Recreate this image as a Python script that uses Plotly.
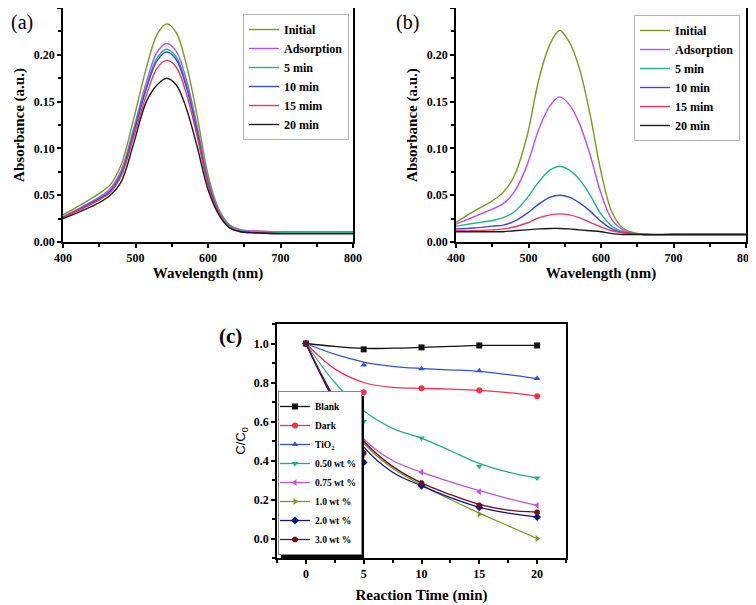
import plotly.graph_objects as go

# The page body adds an 8 px offset; the figure is sized to fill the rest of the 756x605 window.
OFF = 8
W, H = 756 - OFF, 605 - OFF

# ---------------- Panel (a) / (b): UV-vis spectra ----------------
wavelength = [400, 425, 450, 465, 480, 497, 515, 530, 543, 556, 570, 585, 600, 615, 630, 645, 660, 700, 750, 800]
spec_names = ["Initial", "Adsorption", "5 min", "10 min", "15 mim", "20 min"]
spec_colors = ["#7b9a1c", "#c04cf5", "#1db586", "#2f4de0", "#f5305a", "#1a1a1a"]

a_initial = [0.029, 0.040, 0.052, 0.061, 0.082, 0.130, 0.186, 0.222, 0.233, 0.224, 0.190, 0.135, 0.072, 0.035, 0.018, 0.013, 0.012, 0.011, 0.011, 0.011]
a_adsorption = [0.027, 0.037, 0.048, 0.057, 0.076, 0.120, 0.171, 0.203, 0.212, 0.204, 0.174, 0.124, 0.067, 0.034, 0.018, 0.013, 0.012, 0.011, 0.011, 0.011]
a_5min = [0.026, 0.036, 0.047, 0.055, 0.074, 0.117, 0.166, 0.197, 0.206, 0.198, 0.169, 0.120, 0.065, 0.033, 0.017, 0.012, 0.011, 0.010, 0.010, 0.010]
a_10min = [0.026, 0.036, 0.046, 0.054, 0.072, 0.115, 0.164, 0.194, 0.203, 0.195, 0.166, 0.118, 0.063, 0.031, 0.015, 0.011, 0.010, 0.009, 0.009, 0.009]
a_15min = [0.026, 0.035, 0.045, 0.053, 0.070, 0.111, 0.157, 0.186, 0.194, 0.187, 0.159, 0.113, 0.061, 0.031, 0.016, 0.011, 0.010, 0.009, 0.009, 0.009]
a_20min = [0.025, 0.033, 0.042, 0.050, 0.064, 0.104, 0.150, 0.168, 0.175, 0.168, 0.143, 0.102, 0.056, 0.029, 0.015, 0.011, 0.010, 0.009, 0.009, 0.009]

b_initial = [0.021, 0.033, 0.044, 0.053, 0.070, 0.110, 0.176, 0.212, 0.226, 0.214, 0.186, 0.136, 0.075, 0.032, 0.015, 0.010, 0.008, 0.008, 0.008, 0.008]
b_adsorption = [0.019, 0.027, 0.035, 0.041, 0.053, 0.080, 0.122, 0.146, 0.155, 0.147, 0.127, 0.093, 0.052, 0.024, 0.013, 0.009, 0.008, 0.008, 0.008, 0.008]
b_5min = [0.017, 0.020, 0.023, 0.026, 0.032, 0.046, 0.065, 0.077, 0.081, 0.077, 0.067, 0.050, 0.030, 0.017, 0.011, 0.009, 0.008, 0.008, 0.008, 0.008]
b_10min = [0.014, 0.015, 0.017, 0.018, 0.022, 0.030, 0.041, 0.048, 0.050, 0.048, 0.042, 0.033, 0.022, 0.014, 0.010, 0.009, 0.008, 0.008, 0.008, 0.008]
b_15min = [0.012, 0.012, 0.013, 0.014, 0.016, 0.020, 0.026, 0.029, 0.030, 0.029, 0.026, 0.021, 0.016, 0.012, 0.010, 0.009, 0.008, 0.008, 0.008, 0.008]
b_20min = [0.011, 0.011, 0.011, 0.011, 0.012, 0.013, 0.014, 0.0145, 0.0145, 0.014, 0.013, 0.012, 0.011, 0.009, 0.008, 0.008, 0.008, 0.008, 0.008, 0.008]

# ---------------- Panel (c): kinetics ----------------
times = [0, 5, 10, 15, 20]
kin_names = ["Blank", "Dark", "TiO<sub>2</sub>", "0.50 wt %", "0.75 wt %", "1.0 wt %", "2.0 wt %", "3.0 wt %"]
kin_colors = ["#111111", "#f5304a", "#3450e0", "#1db08a", "#c050f0", "#7b9a1c", "#10128f", "#6e1020"]
kin_symbols = ["square", "circle", "triangle-up", "triangle-down", "triangle-left", "triangle-right", "diamond", "octagon"]

c_blank = [1.0, 0.97, 0.98, 0.99, 0.99]
c_dark = [1.0, 0.75, 0.77, 0.76, 0.73]
c_tio2 = [1.0, 0.89, 0.87, 0.86, 0.82]
c_050 = [1.0, 0.60, 0.515, 0.37, 0.31]
c_075 = [1.0, 0.43, 0.34, 0.24, 0.17]
c_10 = [1.0, 0.43, 0.28, 0.125, 0.0]
c_20 = [1.0, 0.39, 0.27, 0.16, 0.11]
c_30 = [1.0, 0.44, 0.285, 0.17, 0.135]

fit_times = [0, 2.5, 5, 7.5, 10, 12.5, 15, 17.5, 20]
fit_blank = [1.0, 0.985, 0.975, 0.976, 0.98, 0.985, 0.99, 0.99, 0.99]
fit_dark = [1.0, 0.87, 0.80, 0.775, 0.77, 0.766, 0.76, 0.748, 0.73]
fit_tio2 = [1.0, 0.945, 0.905, 0.883, 0.872, 0.865, 0.857, 0.84, 0.82]
fit_050 = [1.0, 0.80, 0.655, 0.565, 0.515, 0.45, 0.385, 0.34, 0.31]
fit_075 = [1.0, 0.72, 0.51, 0.40, 0.34, 0.29, 0.245, 0.205, 0.17]
fit_10 = [1.0, 0.71, 0.49, 0.36, 0.275, 0.20, 0.13, 0.065, 0.0]
fit_20 = [1.0, 0.70, 0.47, 0.34, 0.27, 0.21, 0.16, 0.13, 0.11]
fit_30 = [1.0, 0.715, 0.50, 0.37, 0.285, 0.225, 0.175, 0.145, 0.135]

SERIF = "Liberation Serif"
SANS = "Liberation Sans"

fig = go.Figure()

a_series = [a_initial, a_adsorption, a_5min, a_10min, a_15min, a_20min]
b_series = [b_initial, b_adsorption, b_5min, b_10min, b_15min, b_20min]

for name, col, ys in zip(spec_names, spec_colors, a_series):
    fig.add_trace(go.Scatter(x=wavelength, y=ys, mode="lines", name=name,
                             line=dict(color=col, width=1.4, shape="spline", smoothing=1.0),
                             xaxis="x", yaxis="y", legend="legend"))
for name, col, ys in zip(spec_names, spec_colors, b_series):
    fig.add_trace(go.Scatter(x=wavelength, y=ys, mode="lines", name=name,
                             line=dict(color=col, width=1.4, shape="spline", smoothing=1.0),
                             xaxis="x2", yaxis="y2", legend="legend2"))

kin_data = [c_blank, c_dark, c_tio2, c_050, c_075, c_10, c_20, c_30]
kin_fits = [fit_blank, fit_dark, fit_tio2, fit_050, fit_075, fit_10, fit_20, fit_30]

# legend entries (line + marker samples)
for name, col, sym in zip(kin_names, kin_colors, kin_symbols):
    fig.add_trace(go.Scatter(x=[None], y=[None], mode="lines+markers", name=name,
                             line=dict(color=col, width=1.3),
                             marker=dict(symbol=sym, size=6, color=col),
                             xaxis="x3", yaxis="y3", legend="legend3"))
for name, col, fy in zip(kin_names, kin_colors, kin_fits):
    fig.add_trace(go.Scatter(x=fit_times, y=fy, mode="lines", showlegend=False,
                             line=dict(color=col, width=1.3, shape="spline", smoothing=1.0),
                             xaxis="x3", yaxis="y3"))
for name, col, sym, yv in zip(kin_names, kin_colors, kin_symbols, kin_data):
    fig.add_trace(go.Scatter(x=times, y=yv, mode="markers", showlegend=False,
                             marker=dict(symbol=sym, size=6, color=col),
                             xaxis="x3", yaxis="y3"))


def px_x(p):
    return min(1.0, max(0.0, (p - OFF) / W))


def px_y(p):
    return min(1.0, max(0.0, 1 - (p - OFF) / H))


tickfont = dict(family=SERIF, size=12, color="black", weight="bold")
titlefont = dict(family=SERIF, size=15, color="black", weight="bold")
common = dict(showline=True, linecolor="black", linewidth=1.5, mirror=True,
              ticks="outside", ticklen=4, tickwidth=1.5, tickcolor="black",
              showgrid=False, zeroline=False, tickfont=tickfont, automargin=False)
minor_style = dict(ticks="outside", ticklen=3, tickwidth=1.5, tickcolor="black")

# legend (c) box geometry (pixels) for the drop shadow
LX0, LY1 = 278, 555
LW, LH = 83, 162

fig.update_layout(
    width=W, height=H, margin=dict(l=0, r=0, t=0, b=0, autoexpand=False),
    paper_bgcolor="white", plot_bgcolor="white",
    xaxis=dict(common, domain=[px_x(63), px_x(353)], range=[400, 800], dtick=100, tick0=400,
               minor=dict(minor_style, dtick=50),
               anchor="y", title=dict(text="Wavelength (nm)", font=titlefont, standoff=0)),
    yaxis=dict(common, domain=[px_y(242), px_y(8)], range=[0, 0.25], dtick=0.05, tick0=0, tickformat=".2f",
               minor=dict(minor_style, dtick=0.025),
               anchor="x", title=dict(text="Absorbance (a.u.)", font=titlefont, standoff=6)),
    xaxis2=dict(common, domain=[px_x(456), px_x(746)], range=[400, 800], dtick=100, tick0=400,
                minor=dict(minor_style, dtick=50),
                anchor="y2", title=dict(text="Wavelength (nm)", font=titlefont, standoff=0)),
    yaxis2=dict(common, domain=[px_y(242), px_y(8)], range=[0, 0.25], dtick=0.05, tick0=0, tickformat=".2f",
                minor=dict(minor_style, dtick=0.025),
                anchor="x2", title=dict(text="Absorbance (a.u.)", font=titlefont, standoff=6)),
    xaxis3=dict(common, domain=[px_x(277), px_x(566)], range=[-2.5, 22.5], dtick=5, tick0=0,
                minor=dict(minor_style, dtick=2.5),
                anchor="y3", title=dict(text="Reaction Time (min)", font=titlefont, standoff=9)),
    yaxis3=dict(common, domain=[px_y(558), px_y(324)], range=[-0.1, 1.1], dtick=0.2, tick0=0, tickformat=".1f",
                minor=dict(minor_style, dtick=0.1),
                anchor="x3", title=dict(text="C/C<sub>0</sub>", font=dict(family=SANS, size=13, color="black"), standoff=5)),
    legend=dict(x=px_x(243), y=px_y(14), xanchor="left", yanchor="top",
                font=dict(family=SERIF, size=12, color="black", weight="bold"),
                bgcolor="white", bordercolor="#b4b4b4", borderwidth=1),
    legend2=dict(x=px_x(634), y=px_y(15), xanchor="left", yanchor="top",
                 font=dict(family=SERIF, size=12, color="black", weight="bold"),
                 bgcolor="white", bordercolor="#b4b4b4", borderwidth=1),
    legend3=dict(x=px_x(LX0), y=px_y(LY1), xanchor="left", yanchor="bottom", indentation=-4,
                 font=dict(family=SERIF, size=9.5, color="black", weight="bold"),
                 bgcolor="white", bordercolor="#888888", borderwidth=1),
    shapes=[
        dict(type="rect", xref="paper", yref="paper",
             x0=px_x(LX0 + 3), x1=px_x(LX0 + LW + 3), y0=px_y(LY1 + 3), y1=px_y(LY1 - LH + 3),
             fillcolor="black", line=dict(width=0), layer="above"),
    ],
    annotations=[
        dict(text="(a)", x=px_x(9), y=px_y(9), xref="paper", yref="paper", showarrow=False,
             xanchor="left", yanchor="top",
             font=dict(family=SERIF, size=20, color="black")),
        dict(text="(b)", x=px_x(394), y=px_y(9), xref="paper", yref="paper", showarrow=False,
             xanchor="left", yanchor="top",
             font=dict(family=SERIF, size=20, color="black")),
        dict(text="(c)", x=px_x(230), y=px_y(336), xref="paper", yref="paper", showarrow=False,
             xanchor="center", yanchor="middle",
             font=dict(family=SERIF, size=21, color="black", weight="bold")),
    ],
)

fig.write_html("out.html")
